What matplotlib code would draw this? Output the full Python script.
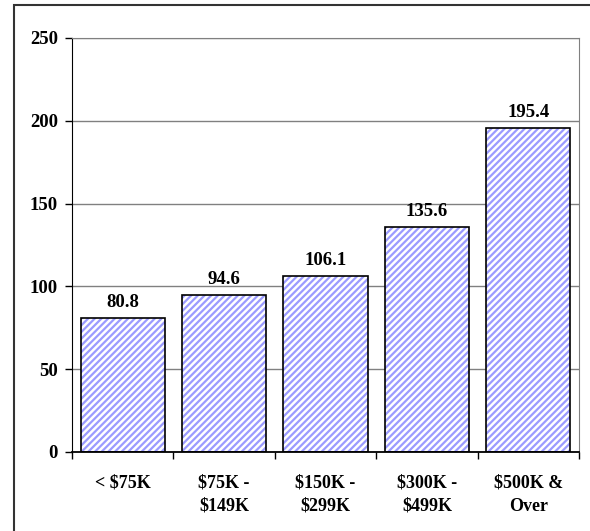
import matplotlib
matplotlib.use("Agg")
import matplotlib.pyplot as plt
from matplotlib.patches import Rectangle

categories = ["< $75K", "$75K -\n$149K", "$150K -\n$299K", "$300K -\n$499K", "$500K &\nOver"]
values = [80.8, 94.6, 106.1, 135.6, 195.4]
yticks = [0, 50, 100, 150, 200, 250]

plt.rcParams['font.family'] = ['Liberation Serif', 'DejaVu Serif']
plt.rcParams['font.weight'] = 'bold'
plt.rcParams['hatch.linewidth'] = 1.6

FS = 13

fig = plt.figure(figsize=(5.90, 5.31), dpi=100)
ax = fig.add_axes([72/590, 1-452/531, (579-72)/590, (452-38)/531])

x = list(range(len(categories)))
ax.bar(x, values, width=0.83, color='white', edgecolor='#9b9bff', hatch='/////', linewidth=0, zorder=2)
ax.bar(x, values, width=0.83, fill=False, edgecolor='black', linewidth=1.2, zorder=3)

for xi, v in zip(x, values):
    ax.text(xi, v + 4.5, f"{v:.1f}", ha='center', va='bottom', fontsize=13.5, fontweight='bold')

ax.set_xlim(-0.5, len(categories) - 0.5)
ax.set_ylim(0, 250)
ax.set_yticks(yticks)
ax.set_yticklabels([str(t) for t in yticks], fontsize=13.5, fontweight='bold')
ax.yaxis.grid(True, color='#808080', linewidth=1.0, zorder=0)
ax.set_axisbelow(True)

ax.set_xticks([i + 0.5 for i in range(-1, len(categories))], minor=False)
ax.set_xticklabels([''] * (len(categories) + 1))
ax.set_xticks(x, minor=True)
ax.set_xticklabels(categories, minor=True, fontsize=FS, fontweight='bold', linespacing=1.5)
ax.tick_params(axis='x', which='minor', length=0, pad=16)
ax.tick_params(axis='x', which='major', direction='out', length=5, width=1)
ax.tick_params(axis='y', direction='out', length=5, width=1, pad=5)

ax.spines['top'].set_color('#808080')
ax.spines['right'].set_color('#808080')
ax.spines['left'].set_color('black')
ax.spines['bottom'].set_color('black')
ax.spines['bottom'].set_linewidth(1.3)

fig.patches.append(Rectangle((14/590, -0.1), 1.2, 1 - 5/531 + 0.1, transform=fig.transFigure,
                             fill=False, edgecolor='#333333', linewidth=1.5))

fig.savefig('out.png', dpi=100)
